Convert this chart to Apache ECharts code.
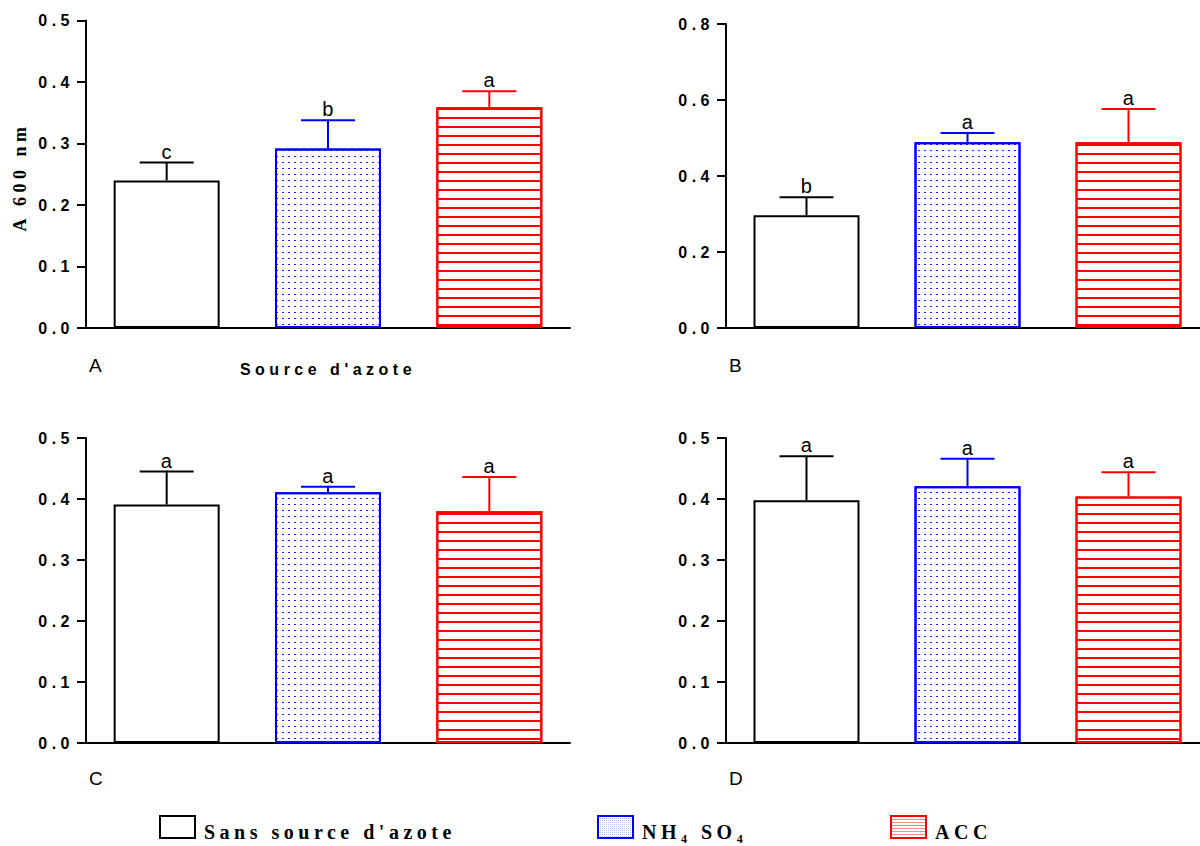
<!DOCTYPE html>
<html>
<head>
<meta charset="utf-8">
<script src="https://cdn.jsdelivr.net/npm/echarts@6/dist/echarts.min.js"></script>
<style>
html, body { margin: 0; background: #fff; }
#chart { width: 1200px; height: 846px; }
/* the original export spaces every letter out */
#chart text { letter-spacing: 4.5px; }
</style>
</head>
<body>
<div id="chart"></div>
<script>
const treatNames = ["Sans source d'azote", 'NH₄ SO₄', 'ACC'];
const panelNames = ['A', 'B', 'C', 'D'];
const yMax = [0.5, 0.8, 0.5, 0.5];
const yStep = [0.1, 0.2, 0.1, 0.1];

// mean and upper error (sd) per panel
const meanA = [0.240, 0.292, 0.359];
const sdA = [0.029, 0.046, 0.026];
const letA = ['c', 'b', 'a'];
const meanB = [0.297, 0.489, 0.489];
const sdB = [0.047, 0.024, 0.087];
const letB = ['b', 'a', 'a'];
const meanC = [0.391, 0.411, 0.380];
const sdC = [0.054, 0.009, 0.056];
const letC = ['a', 'a', 'a'];
const meanD = [0.398, 0.421, 0.404];
const sdD = [0.072, 0.045, 0.040];
const letD = ['a', 'a', 'a'];

const means = [meanA, meanB, meanC, meanD];
const sds = [sdA, sdB, sdC, sdD];
const letters = [letA, letB, letC, letD];

const edge = ['#000000', '#0000ff', '#ff0000'];
const decals = [
  null,
  { symbol: 'rect', symbolSize: 1, color: '#1a1aff', backgroundColor: '#ffffff', dashArrayX: [2, 4], dashArrayY: [1, 5] },
  { symbol: 'rect', symbolSize: 1, color: '#ff0000', backgroundColor: '#ffffff', dashArrayX: [1, 0], dashArrayY: [2, 7] }
];
// the legend boxes use a finer, lighter fill
const legendDecals = [
  null,
  { symbol: 'rect', symbolSize: 1, color: '#b8c4ff', backgroundColor: '#ffffff', dashArrayX: [1, 1], dashArrayY: [1, 1] },
  { symbol: 'rect', symbolSize: 1, color: '#ff8a8a', backgroundColor: '#ffffff', dashArrayX: [1, 0], dashArrayY: [1, 2] }
];

const grids = [
  { left: 86, top: 20.5, width: 484, height: 307.5 },
  { left: 726, top: 24, width: 483, height: 304 },
  { left: 86, top: 438, width: 484, height: 305 },
  { left: 726, top: 438, width: 483, height: 305 }
];

let xAxes = [], yAxes = [], series = [];
grids.forEach((g, p) => {
  g.containLabel = false;
  g.outerBoundsMode = 'none';
  xAxes.push({
    type: 'category', gridIndex: p, data: treatNames,
    axisLine: { lineStyle: { color: '#000', width: 2 } },
    axisTick: { alignWithLabel: true, length: 8, lineStyle: { color: '#000', width: 2 } },
    axisLabel: { show: false }
  });
  yAxes.push({
    type: 'value', gridIndex: p, min: 0, max: yMax[p], interval: yStep[p],
    axisLine: { show: true, lineStyle: { color: '#000', width: 2 } },
    axisTick: { show: true, length: 9, lineStyle: { color: '#000', width: 2 } },
    splitLine: { show: false },
    axisLabel: {
      margin: 12, color: '#000', fontSize: 16, fontWeight: 'bold', fontFamily: 'Liberation Sans',
      formatter: v => v.toFixed(1)
    }
  });
  treatNames.forEach((name, t) => {
    let d = ['-', '-', '-'];
    d[t] = means[p][t];
    let style = { color: '#ffffff', borderColor: edge[t], borderWidth: 2 };
    if (decals[t]) style.decal = decals[t];
    series.push({
      type: 'bar', name: name, xAxisIndex: p, yAxisIndex: p, data: d,
      barWidth: 106, barGap: '-100%', itemStyle: style, silent: true
    });
  });
  series.push({
    type: 'custom', xAxisIndex: p, yAxisIndex: p, silent: true, z: 5,
    data: means[p].map((m, i) => [i, m, sds[p][i]]),
    encode: { x: 0, y: 1 },
    renderItem: function (params, api) {
      const i = params.dataIndex;
      const base = api.coord([api.value(0), api.value(1)]);
      const top = api.coord([api.value(0), api.value(1) + api.value(2)]);
      const col = edge[i];
      return {
        type: 'group',
        children: [
          { type: 'line', shape: { x1: top[0], y1: base[1], x2: top[0], y2: top[1] }, style: { stroke: col, lineWidth: 2 } },
          { type: 'line', shape: { x1: top[0] - 27, y1: top[1], x2: top[0] + 27, y2: top[1] }, style: { stroke: col, lineWidth: 2 } },
          {
            type: 'text', x: top[0] + 2, y: top[1] - 1,
            style: { text: letters[p][i], textAlign: 'center', textVerticalAlign: 'bottom', font: '20px "Liberation Sans"', fill: '#000' }
          }
        ]
      };
    }
  });
});

const legendLeft = [159, 597, 890];
const legends = treatNames.map((n, t) => {
  let itemStyle = { borderColor: edge[t], borderWidth: 2, color: '#fff' };
  if (legendDecals[t]) itemStyle.decal = legendDecals[t];
  return {
    data: [n], left: legendLeft[t], top: 815, padding: 0,
    itemWidth: 35, itemHeight: 22, icon: 'rect', selectedMode: false,
    itemStyle: itemStyle,
    formatter: name => '{t|' + name + '}',
    textStyle: {
      rich: {
        t: { fontFamily: 'Liberation Serif', fontWeight: 'bold', fontSize: 20, color: '#000', padding: [10, 0, 0, 4] }
      }
    }
  };
});

const panelPos = [[89, 365], [729, 365], [89, 778], [729, 778]];
let graphics = panelNames.map((n, p) => ({
  type: 'text', x: panelPos[p][0], y: panelPos[p][1],
  style: { text: n, textAlign: 'left', textVerticalAlign: 'middle', font: '19px "Liberation Sans"', fill: '#000' }
}));
graphics.push({
  type: 'text', x: 328, y: 369,
  style: { text: "Source d'azote", textAlign: 'center', textVerticalAlign: 'middle', font: 'bold 16px "Liberation Sans"', fill: '#000' }
});
graphics.push({
  type: 'text', x: 20, y: 177, rotation: Math.PI / 2,
  style: { text: 'A 600 nm', textAlign: 'center', textVerticalAlign: 'middle', font: 'bold 18px "Liberation Serif"', fill: '#000' }
});

const chart = echarts.init(document.getElementById('chart'), null, { renderer: 'svg' });
chart.setOption({
  animation: false,
  backgroundColor: '#fff',
  grid: grids,
  xAxis: xAxes,
  yAxis: yAxes,
  legend: legends,
  graphic: graphics,
  series: series
});
</script>
</body>
</html>
